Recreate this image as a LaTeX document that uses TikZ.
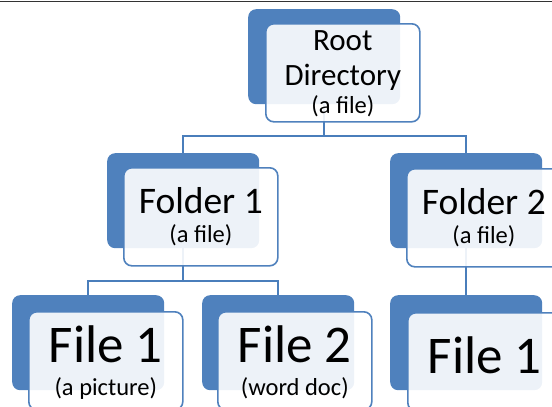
\documentclass[tikz,border=0pt]{standalone}
\usepackage{fontspec}
\setmainfont{Carlito}
\usetikzlibrary{calc}
\definecolor{accent}{HTML}{4F81BD}
\definecolor{linkc}{HTML}{4A7EBB}
\definecolor{rulec}{HTML}{333333}

\begin{document}
\begin{tikzpicture}[x=1pt,y=-1pt,
  backbox/.style={rectangle, rounded corners=8pt, fill=accent,
    minimum width=152pt, minimum height=95pt, inner sep=0pt, anchor=north west},
  frontbox/.style={rectangle, rounded corners=8pt, draw=accent, line width=1.6pt,
    fill=white, fill opacity=0.9, minimum width=154pt, minimum height=98pt,
    inner sep=0pt, anchor=north west},
  link/.style={draw=linkc, line width=1.6pt},
  txt/.style={anchor=base, inner sep=0pt, text=black},
  rootfont/.style={font=\fontsize{31}{37}\selectfont},
  folderfont/.style={font=\fontsize{37.5}{44}\selectfont},
  filefont/.style={font=\fontsize{53}{62}\selectfont},
  subfont/.style={font=\fontsize{24.5}{29}\selectfont}]

\useasboundingbox (0,0) rectangle (552,407);
\clip (0,0) rectangle (552,407);

% rule along the top edge
\draw[rulec, line width=1.5pt] (0,1.5) -- (552,1.5);

% shaded back plates
\node[backbox] (rootB) at (248,9) {};
\node[backbox] (f1B) at (107,153) {};
\node[backbox] (f2B) at (390,153) {};
\node[backbox] (fa1B) at (12,295) {};
\node[backbox] (fa2B) at (202,295) {};
\node[backbox] (fb1B) at (390,295) {};

% tree connectors
\coordinate (busA) at (0,136);
\coordinate (busB) at (0,281);
\draw[link] (rootB.south) -- (rootB.south |- busA) -| (f1B.north);
\draw[link] (rootB.south |- busA) -| (f2B.north);
\draw[link] (f1B.south) -- (f1B.south |- busB) -| (fa1B.north);
\draw[link] (f1B.south |- busB) -| (fa2B.north);
\draw[link] (f2B.south) -- (fb1B.north);

% translucent front cards
\node[frontbox] (rootF) at (265,23) {};
\node[frontbox] (f1F) at (123,167) {};
\node[frontbox] (f2F) at (406,168) {};
\node[frontbox] (fa1F) at (28,311) {};
\node[frontbox] (fa2F) at (217,311) {};
\node[frontbox] (fb1F) at (407,312) {};

% labels
\node[txt, rootfont] (rootT1) at ($(rootF.north)+(0,27)$) {Root};
\node[txt, rootfont] (rootT2) at ($(rootF.north)+(0,62)$) {Directory};
\node[txt, subfont] (rootT3) at ($(rootF.north)+(0,90)$) {(a file)};

\node[txt, folderfont] (f1T1) at ($(f1F.north)+(0,46)$) {Folder 1};
\node[txt, subfont] (f1T2) at ($(f1F.north)+(0,75)$) {(a file)};

\node[txt, folderfont] (f2T1) at ($(f2F.north)+(0,46)$) {Folder 2};
\node[txt, subfont] (f2T2) at ($(f2F.north)+(0,75)$) {(a file)};

\node[txt, filefont] (fa1T1) at ($(fa1F.north)+(0,51)$) {File 1};
\node[txt, subfont] (fa1T2) at ($(fa1F.north)+(0,84)$) {(a picture)};

\node[txt, filefont] (fa2T1) at ($(fa2F.north)+(0,51)$) {File 2};
\node[txt, subfont] (fa2T2) at ($(fa2F.north)+(0,84)$) {(word doc)};

\node[txt, filefont] (fb1T1) at ($(fb1F.north)+(0,61)$) {File 1};
\end{tikzpicture}
\end{document}
